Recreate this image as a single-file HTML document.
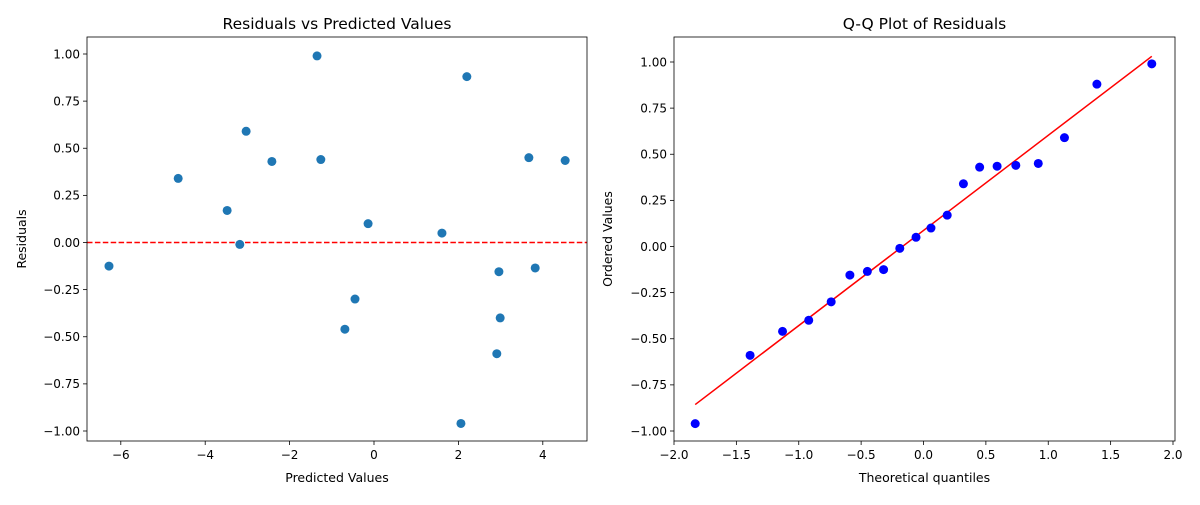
<!DOCTYPE html>
<html><head><meta charset="utf-8">
<style>
body{margin:0;background:#fff;width:1200px;height:500px;overflow:hidden;font-family:"Liberation Sans","DejaVu Sans",sans-serif}
svg text{font-family:"DejaVu Sans","Liberation Sans",sans-serif;fill:#000}
</style></head>
<body>
<svg id="chart" width="1200" height="500" xmlns="http://www.w3.org/2000/svg"></svg>
<script>
const predicted = [-6.28,-4.64,-3.48,-3.18,-3.03,-2.42,-1.35,-1.26,-0.69,-0.45,-0.14,1.61,2.06,2.20,2.91,2.96,2.99,3.67,3.82,4.53];
const residuals = [-0.125,0.34,0.17,-0.01,0.59,0.43,0.99,0.44,-0.46,-0.30,0.10,0.05,-0.96,0.88,-0.59,-0.155,-0.40,0.45,-0.135,0.435];
const theoreticalQuantiles = [-1.83,-1.39,-1.13,-0.92,-0.74,-0.59,-0.45,-0.32,-0.19,-0.06,0.06,0.19,0.32,0.45,0.59,0.74,0.92,1.13,1.39,1.83];
const leftXTicks = [-6,-4,-2,0,2,4];
const leftYTicks = [-1.00,-0.75,-0.50,-0.25,0.00,0.25,0.50,0.75,1.00];
const rightXTicks = [-2.0,-1.5,-1.0,-0.5,0.0,0.5,1.0,1.5,2.0];
const rightYTicks = [-1.00,-0.75,-0.50,-0.25,0.00,0.25,0.50,0.75,1.00];

const NS="http://www.w3.org/2000/svg";
const svg=document.getElementById('chart');
function mk(tag,attrs,parent){const e=document.createElementNS(NS,tag);for(const k in attrs)e.setAttribute(k,attrs[k]);(parent||svg).appendChild(e);return e;}
function lin(d0,d1,r0,r1){return v=>r0+(v-d0)*(r1-r0)/(d1-d0);}
function fmt(v,d){return (v<0?'\u2212':'')+Math.abs(v).toFixed(d);}

function axes(o){
  const g=mk('g',{});
  
  
  o.xt.forEach(t=>{const x=o.sx(t);
    mk('line',{x1:x,x2:x,y1:o.b,y2:o.b+4,stroke:'#000','stroke-width':0.8},g);
    const tx=mk('text',{x:x,y:o.b+18,'font-size':12,'text-anchor':'middle'},g);tx.textContent=fmt(t,o.xd);
    
    });
  o.yt.forEach(t=>{const y=o.sy(t);
    mk('line',{x1:o.l-4,x2:o.l,y1:y,y2:y,stroke:'#000','stroke-width':0.8},g);
    const tx=mk('text',{x:o.l-7,y:y+4.3,'font-size':12,'text-anchor':'end'},g);tx.textContent=fmt(t,2);
    
    });
  const tt=mk('text',{x:(o.l+o.r)/2,y:o.t-8,'font-size':15.5,'text-anchor':'middle'},g);tt.textContent=o.title;
  
  
  const xl=mk('text',{x:(o.l+o.r)/2,y:482,'font-size':12.5,'text-anchor':'middle'},g);xl.textContent=o.xlab;
  
  
  const yl=mk('text',{x:0,y:0,'font-size':12.5,'text-anchor':'middle',transform:`translate(${o.ylx},${(o.t+o.b)/2}) rotate(-90)`},g);yl.textContent=o.ylab;
  
  
  return g;
}
function frame(o){const r=mk('rect',{x:o.l,y:o.t,width:o.r-o.l,height:o.b-o.t,fill:'none',stroke:'#000','stroke-width':0.8});
  
  }

// Left
const L={l:87,r:587,t:37,b:441,sx:lin(0,2,374,458.4),sy:lin(0,1,242.5,54),xt:leftXTicks,yt:leftYTicks,xd:0,
  title:'Residuals vs Predicted Values',xlab:'Predicted Values',ylab:'Residuals',ylx:26,name:'residuals-plot'};
const gl=axes(L);
const zl=mk('line',{x1:L.l,x2:L.r,y1:L.sy(0),y2:L.sy(0),stroke:'#ff0000','stroke-width':1.5,'stroke-dasharray':'5.5,2.4'},gl);


predicted.forEach((p,i)=>{const c=mk('circle',{cx:L.sx(p),cy:L.sy(residuals[i]),r:4.5,fill:'#1f77b4'},gl);
  
  });
frame(L);

// Right
const R={l:674,r:1175,t:37,b:441,sx:lin(-2,2,674,1173),sy:lin(0,1,246.5,62),xt:rightXTicks,yt:rightYTicks,xd:1,
  title:'Q-Q Plot of Residuals',xlab:'Theoretical quantiles',ylab:'Ordered Values',ylx:612,name:'qq-plot'};
const gr=axes(R);
const ordered=residuals.slice().sort((a,b)=>a-b);
const n=ordered.length;
const mx=theoreticalQuantiles.reduce((a,b)=>a+b,0)/n, my=ordered.reduce((a,b)=>a+b,0)/n;
let sxy=0,sxx=0;theoreticalQuantiles.forEach((q,i)=>{sxy+=(q-mx)*(ordered[i]-my);sxx+=(q-mx)**2;});
const slope=sxy/sxx, icpt=my-slope*mx;
const q0=theoreticalQuantiles[0],q1=theoreticalQuantiles[n-1];
const fl=mk('line',{x1:R.sx(q0),y1:R.sy(icpt+slope*q0),x2:R.sx(q1),y2:R.sy(icpt+slope*q1),stroke:'#ff0000','stroke-width':1.5},gr);


theoreticalQuantiles.forEach((q,i)=>{const c=mk('circle',{cx:R.sx(q),cy:R.sy(ordered[i]),r:4.5,fill:'#0000ff'},gr);
  
  });
frame(R);
</script>
</body></html>
